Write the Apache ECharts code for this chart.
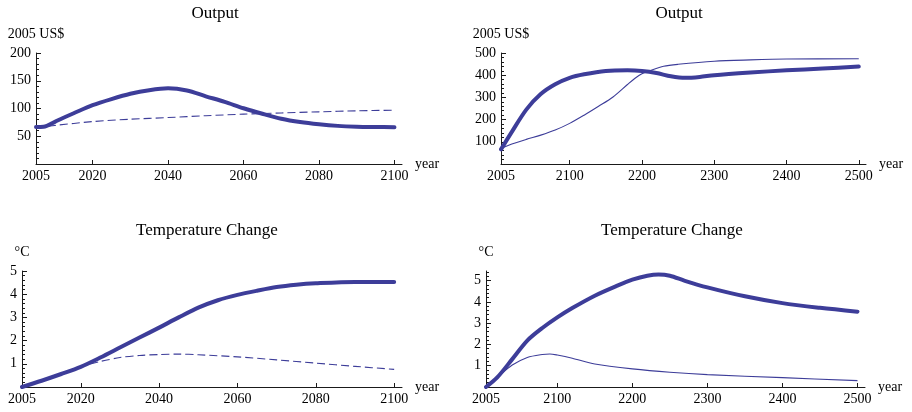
<!DOCTYPE html>
<html>
<head>
<meta charset="utf-8">
<script src="https://cdn.jsdelivr.net/npm/echarts@6/dist/echarts.min.js"></script>
<style>
html,body{margin:0;padding:0;background:#fff;}
#c{width:912px;height:412px;}
</style>
</head>
<body>
<div id="c"></div>
<script>
// ---- Data ----
// Top-left: Output, 2005-2100
const outShortYears  = [2005, 2007, 2010, 2012, 2015, 2020, 2025, 2030, 2035, 2040, 2045, 2050, 2055, 2060, 2065, 2070, 2075, 2080, 2085, 2090, 2095, 2100];
const outShortThick  = [66.5, 67, 76, 82.5, 91.5, 106, 117, 126.5, 133, 136.5, 132.5, 122, 112, 100.5, 90.5, 81.5, 75.5, 71.5, 68.7, 67.3, 66.7, 66.3];
const outShortDashYears = [2005, 2010, 2020, 2030, 2040, 2050, 2060, 2070, 2080, 2090, 2100];
const outShortDash   = [66, 69.5, 76.4, 80.7, 83.7, 87, 89.8, 92, 94, 95.8, 97];

// Top-right: Output, 2005-2500
const outLongYears   = [2005, 2020, 2040, 2060, 2080, 2100, 2120, 2150, 2180, 2200, 2220, 2240, 2260, 2280, 2300, 2350, 2400, 2450, 2500];
const outLongThick   = [66, 145, 245, 315, 359, 388, 404, 419, 422, 419, 410, 395, 388, 392, 400, 412, 422, 430, 439];
const outLongThinYears = [2005, 2020, 2040, 2060, 2080, 2100, 2120, 2140, 2160, 2180, 2190, 2200, 2210, 2230, 2250, 2300, 2350, 2400, 2500];
const outLongThin    = [70, 90, 111, 130, 153, 183, 220, 260, 302, 358, 385, 407, 419, 440, 449, 463, 469, 473, 474];

// Bottom-left: Temperature change, 2005-2100
const tempShortYears = [2005, 2010, 2015, 2020, 2025, 2030, 2035, 2040, 2045, 2050, 2055, 2060, 2065, 2070, 2075, 2080, 2090, 2100];
const tempShortThick = [0, 0.27, 0.56, 0.87, 1.27, 1.7, 2.13, 2.56, 3.0, 3.42, 3.74, 3.97, 4.15, 4.31, 4.41, 4.47, 4.53, 4.53];
const tempShortDashYears = [2005, 2010, 2015, 2020, 2025, 2030, 2035, 2040, 2045, 2050, 2060, 2070, 2080, 2090, 2100];
const tempShortDash  = [0, 0.27, 0.56, 0.87, 1.1, 1.27, 1.36, 1.4, 1.42, 1.39, 1.3, 1.17, 1.03, 0.89, 0.76];

// Bottom-right: Temperature change, 2005-2500
const tempLongYears  = [2005, 2020, 2040, 2060, 2080, 2100, 2120, 2150, 2180, 2200, 2220, 2235, 2250, 2270, 2300, 2350, 2400, 2450, 2500];
const tempLongThick  = [0, 0.45, 1.31, 2.18, 2.77, 3.27, 3.71, 4.29, 4.76, 5.04, 5.23, 5.29, 5.23, 4.99, 4.68, 4.26, 3.94, 3.72, 3.54];
const tempLongThinYears = [2005, 2020, 2040, 2060, 2080, 2090, 2100, 2120, 2150, 2200, 2250, 2300, 2400, 2500];
const tempLongThin   = [0, 0.45, 1.03, 1.39, 1.53, 1.55, 1.5, 1.35, 1.08, 0.85, 0.69, 0.58, 0.44, 0.3];

// Tick labels
const xTicksShort = [2005, 2020, 2040, 2060, 2080, 2100];
const xTicksLong  = [2005, 2100, 2200, 2300, 2400, 2500];
const yTicksOutShort = [50, 100, 150, 200];
const yTicksOutLong  = [100, 200, 300, 400, 500];
const yTicksTemp     = [1, 2, 3, 4, 5];

const titles = ['Output', 'Output', 'Temperature Change', 'Temperature Change'];
const yUnits = ['2005 US$', '2005 US$', '\u00B0C', '\u00B0C'];
const xName = 'year';

// ---- Build ----
const zip = (xs, ys) => xs.map((x, i) => [x, ys[i]]);
const minorList = (max, step, majorStep) => {
  const out = [];
  for (let k = 1; k * step <= max + 1e-9; k++) {
    const v = +(k * step).toFixed(6);
    if (Math.abs(v / majorStep - Math.round(v / majorStep)) > 1e-6) out.push(v);
  }
  return out;
};

const FONT = 'Liberation Serif';
const COLOR = '#3d3d99';
const AX = '#1a1a1a';

const grids = [
  { left: 36,  top: 53,  width: 366, height: 111 },
  { left: 501, top: 53,  width: 365, height: 111 },
  { left: 22,  top: 271, width: 380, height: 116 },
  { left: 486, top: 271, width: 379, height: 116 }
];
const xMax = [2102, 2510, 2102, 2510];
const xTicks = [xTicksShort, xTicksLong, xTicksShort, xTicksLong];
const yMax = [200, 500, 5, 5.45];
const yTicks = [yTicksOutShort, yTicksOutLong, yTicksTemp, yTicksTemp];
const yMinor = [minorList(200, 10, 50), minorList(500, 20, 100), minorList(5, 0.2, 1), minorList(5.45, 0.2, 1)];
const yNameGap = [19, 19, 18.5, 18.5];
const titlePos = [[215, 5.5], [679, 5.5], [207, 222.5], [672, 222.5]];

const xAxis = [], yAxis = [], title = [];
for (let i = 0; i < 4; i++) {
  xAxis.push({
    type: 'value', gridIndex: i, min: 2005, max: xMax[i],
    name: xName, nameLocation: 'end', nameGap: 13,
    nameTextStyle: { fontFamily: FONT, fontSize: 14, color: '#000', align: 'left', verticalAlign: 'middle', padding: [2, 0, 0, 0] },
    axisLine: { show: true, onZero: false, lineStyle: { color: AX, width: 1 } },
    axisTick: { show: true, inside: true, length: 4, customValues: xTicks[i], lineStyle: { color: AX } },
    axisLabel: { show: true, customValues: xTicks[i], margin: 5, fontFamily: FONT, fontSize: 14, color: '#000',
                 formatter: v => String(v) },
    splitLine: { show: false }
  });
  yAxis.push({
    type: 'value', gridIndex: i, min: 0, max: yMax[i], position: 'left',
    name: yUnits[i], nameLocation: 'end', nameGap: yNameGap[i],
    nameTextStyle: { fontFamily: FONT, fontSize: 14, color: '#000', align: 'center', verticalAlign: 'middle' },
    axisLine: { show: true, onZero: false, lineStyle: { color: AX, width: 1 } },
    axisTick: { show: true, inside: true, length: 5, customValues: yTicks[i], lineStyle: { color: AX } },
    axisLabel: { show: true, customValues: yTicks[i], margin: 5, fontFamily: FONT, fontSize: 14, color: '#000',
                 formatter: v => String(v) },
    splitLine: { show: false }
  });
  title.push({
    text: titles[i], left: titlePos[i][0], top: titlePos[i][1], textAlign: 'center', padding: 0,
    textStyle: { fontFamily: FONT, fontSize: 17, fontWeight: 'normal', color: '#000' }
  });
}
// minor tick axes
for (let i = 0; i < 4; i++) {
  yAxis.push({
    type: 'value', gridIndex: i, min: 0, max: yMax[i], position: 'left', offset: 0,
    axisLine: { show: false },
    axisTick: { show: true, inside: true, length: 3, customValues: yMinor[i], lineStyle: { color: AX } },
    axisLabel: { show: false },
    splitLine: { show: false }
  });
}

const thick = (x, y, gi) => ({
  type: 'line', xAxisIndex: gi, yAxisIndex: gi, data: zip(x, y),
  showSymbol: false, smooth: 0.3, silent: true, z: 3,
  lineStyle: { color: COLOR, width: 4, cap: 'round', join: 'round' }
});
const thin = (x, y, gi, dashed) => ({
  type: 'line', xAxisIndex: gi, yAxisIndex: gi, data: zip(x, y),
  showSymbol: false, smooth: 0.3, silent: true, z: 2,
  lineStyle: { color: COLOR, width: 1.1, type: dashed ? [8, 4] : 'solid' }
});

const series = [
  thin(outShortDashYears, outShortDash, 0, true),
  thick(outShortYears, outShortThick, 0),
  thin(outLongThinYears, outLongThin, 1, false),
  thick(outLongYears, outLongThick, 1),
  thin(tempShortDashYears, tempShortDash, 2, true),
  thick(tempShortYears, tempShortThick, 2),
  thin(tempLongThinYears, tempLongThin, 3, false),
  thick(tempLongYears, tempLongThick, 3)
];

const chart = echarts.init(document.getElementById('c'), null, { renderer: 'canvas' });
chart.setOption({
  animation: false,
  backgroundColor: '#fff',
  title: title,
  grid: grids.map(g => Object.assign({ containLabel: false }, g)),
  xAxis: xAxis,
  yAxis: yAxis,
  series: series
});
</script>
</body>
</html>
